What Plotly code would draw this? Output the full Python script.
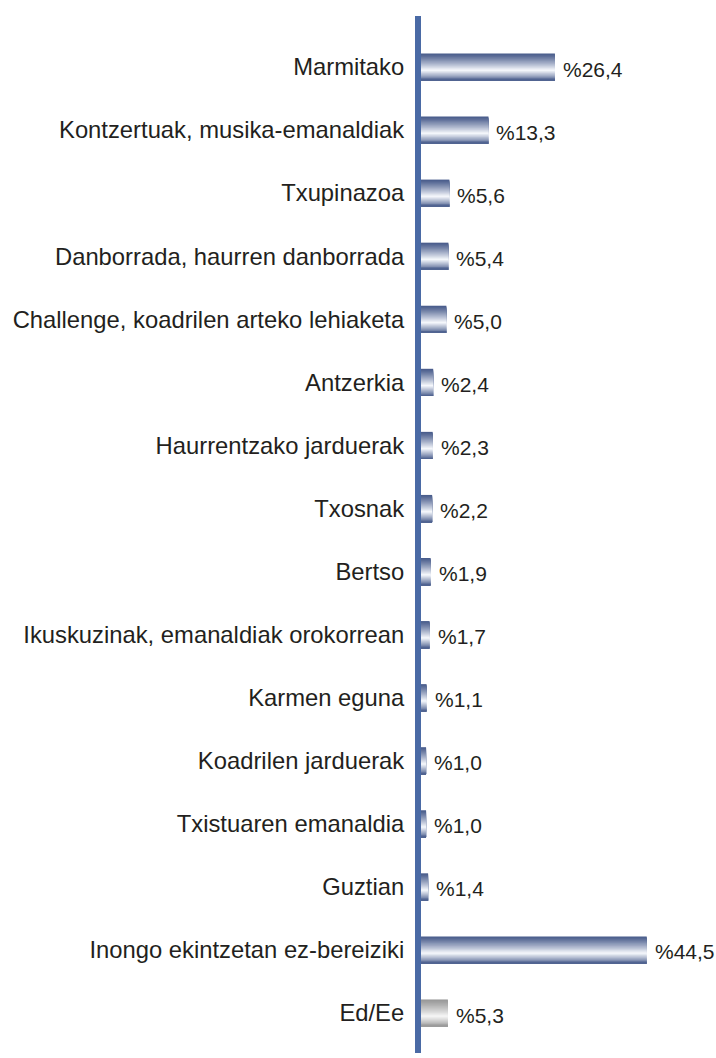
import plotly.graph_objects as go

# Festival activities and share of respondents (%)
categories = [
    "Marmitako",
    "Kontzertuak, musika-emanaldiak",
    "Txupinazoa",
    "Danborrada, haurren danborrada",
    "Challenge, koadrilen arteko lehiaketa",
    "Antzerkia",
    "Haurrentzako jarduerak",
    "Txosnak",
    "Bertso",
    "Ikuskuzinak, emanaldiak orokorrean",
    "Karmen eguna",
    "Koadrilen jarduerak",
    "Txistuaren emanaldia",
    "Guztian",
    "Inongo ekintzetan ez-bereiziki",
    "Ed/Ee",
]
values = [26.4, 13.3, 5.6, 5.4, 5.0, 2.4, 2.3, 2.2, 1.9, 1.7, 1.1, 1.0, 1.0, 1.4, 44.5, 5.3]

labels = ["%" + f"{v:.1f}".replace(".", ",") for v in values]

TEXT = "#231f20"
FONT = "Liberation Sans, Arial, sans-serif"
AXIS_BLUE = "#4a6aa5"

BLUE_EDGE = (70, 90, 138)
BLUE_LIGHT = (247, 249, 253)
GRAY_EDGE = (150, 150, 150)
GRAY_LIGHT = (246, 246, 246)


def mix(a, b, m):
    return "rgb(%d,%d,%d)" % tuple(round(a[i] + (b[i] - a[i]) * m) for i in range(3))


# Each bar is shaded with a vertical gradient: dark edges, light band a bit
# below the middle. The gradient is built from stacked bar layers, each layer
# starting lower and reaching to the bottom of the bar.
bar_w = 0.43
n_strips = 30
step = bar_w / n_strips
peak = 0.62

fig = go.Figure()
for k in range(n_strips):
    t = (k + 0.5) / n_strips
    m = (t / peak) ** 1.15 if t < peak else ((1 - t) / (1 - peak)) ** 0.9
    colors = [
        mix(GRAY_EDGE, GRAY_LIGHT, m) if c == "Ed/Ee" else mix(BLUE_EDGE, BLUE_LIGHT, m)
        for c in categories
    ]
    fig.add_trace(
        go.Bar(
            x=values,
            y=categories,
            orientation="h",
            width=bar_w - k * step,
            offset=-bar_w / 2 + k * step,
            marker=dict(color=colors, line=dict(width=0)),
            hoverinfo="skip",
            showlegend=False,
        )
    )

# Value labels to the right of each bar
for cat, val, lab in zip(categories, values, labels):
    fig.add_annotation(
        x=val,
        y=cat,
        text=lab,
        showarrow=False,
        xanchor="left",
        yanchor="middle",
        xshift=6,
        yshift=-2,
        font=dict(family=FONT, size=21, color=TEXT),
    )

fig.update_layout(
    width=716,
    height=1058,
    margin=dict(l=421, r=14, t=16, b=5),
    barmode="overlay",
    plot_bgcolor="white",
    paper_bgcolor="white",
    xaxis=dict(
        range=[0, 55.4],
        showgrid=False,
        zeroline=False,
        showticklabels=False,
        showline=False,
        ticks="",
    ),
    yaxis=dict(
        type="category",
        range=[15.634, -0.809],
        showgrid=False,
        zeroline=False,
        showline=True,
        linecolor=AXIS_BLUE,
        linewidth=6,
        ticks="",
        ticklabelstandoff=6,
        tickfont=dict(family=FONT, size=23.8, color=TEXT),
    ),
)

fig.write_html("out.html")
